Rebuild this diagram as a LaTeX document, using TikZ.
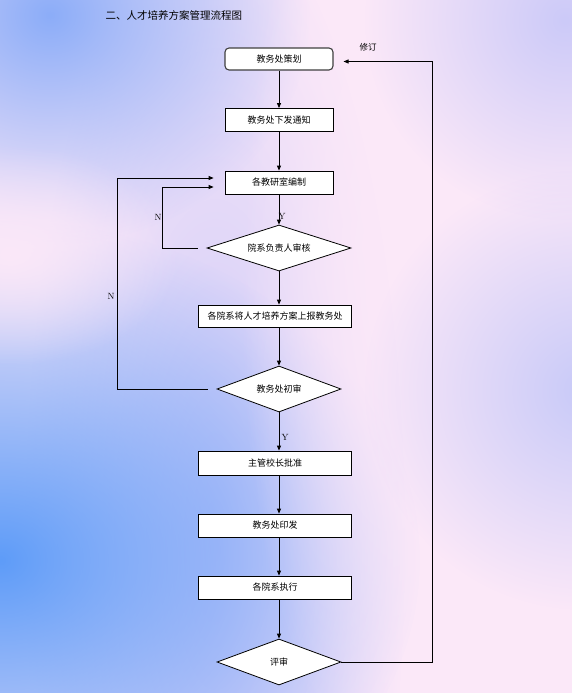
\documentclass[tikz,border=0pt]{standalone}
\usepackage{fontspec}
\newfontfamily\cjk{Noto Sans CJK SC}
\usetikzlibrary{arrows.meta,positioning,shapes.geometric,fadings}
\definecolor{flowpink}{HTML}{FBE8F8}
\definecolor{flowblue}{HTML}{5E9CF8}
\definecolor{flowsky}{HTML}{8CADF8}
\definecolor{flowlav}{HTML}{C8CAF8}
\definecolor{flowmist}{HTML}{CCCAF8}
\tikzfading[name=blobfade,inner color=transparent!0,outer color=transparent!100]

\begin{document}
\begin{tikzpicture}[
  x=1pt,y=-1pt,
  font=\cjk\fontsize{9}{11}\selectfont,
  box/.style={draw=black,fill=white,minimum width=108pt,minimum height=23pt,inner sep=2pt,line width=0.8pt},
  widebox/.style={box,minimum width=153pt},
  startbox/.style={box,rounded corners=4pt,draw=black!75,line width=1.1pt,minimum height=22pt},
  check/.style={diamond,aspect=3,draw=black,fill=white,inner sep=0pt,line width=0.8pt,minimum height=46pt},
  arr/.style={-{Triangle[length=5pt,width=4pt]},draw=black,line width=0.8pt},
  tag/.style={font=\rmfamily\fontsize{9}{11}\selectfont,inner sep=1pt}
]
\useasboundingbox (0,0) rectangle (572,693);
% background
\fill[flowpink] (0,0) rectangle (572,693);
\begin{scope}
\clip (0,0) rectangle (572,693);
\fill[flowmist,path fading=blobfade] (215,540) ellipse (190 and 640);
\fill[flowsky,path fading=blobfade] (50,15) ellipse (260 and 230);
\fill[flowblue,path fading=blobfade] (0,560) ellipse (420 and 340);
\fill[flowpink,path fading=blobfade] (10,255) ellipse (170 and 110);
\fill[flowpink,path fading=blobfade] (390,280) ellipse (150 and 500);
\fill[flowlav,path fading=blobfade] (585,390) circle (220);
\fill[flowmist,path fading=blobfade] (565,20) circle (200);
\end{scope}

\node[anchor=west,font=\cjk\fontsize{10.5}{12}\selectfont] (title) at (102,15) {二、人才培养方案管理流程图};

\node[startbox] (plan) at (279,59) {教务处策划};
\node[box] (notice) at (279,120) {教务处下发通知};
\node[box] (compile) at (279,182.5) {各教研室编制};
\node[check,minimum width=144pt] (deptcheck) at (279,248) {院系负责人审核};
\node[widebox,minimum height=22pt] (report) at (275,316) {各院系将人才培养方案上报教务处};
\node[check,minimum width=124pt] (officecheck) at (279,389) {教务处初审};
\node[widebox,minimum height=24pt] (approve) at (275,463) {主管校长批准};
\node[widebox] (issue) at (275,525.5) {教务处印发};
\node[widebox] (execute) at (275,587.5) {各院系执行};
\node[check,minimum width=124pt] (review) at (279,662) {评审};

\draw[arr] (plan) -- (notice);
\draw[arr] (notice) -- (compile);
\draw[arr] (compile) -- (deptcheck);
\draw[arr] (deptcheck) -- (report.north -| deptcheck);
\draw[arr] (report.south -| officecheck) -- (officecheck);
\draw[arr] (officecheck) -- (approve.north -| officecheck);
\draw[arr] (approve.south -| review) -- (issue.north -| review);
\draw[arr] (issue.south -| review) -- (execute.north -| review);
\draw[arr] (execute.south -| review) -- (review);

\draw[arr,shorten <=9pt,shorten >=11pt] (deptcheck.west) -- ++(-44,0) |- ([yshift=-4.5pt]compile.west);
\draw[arr,shorten <=9pt,shorten >=11pt] (officecheck.west) -- ++(-99,0) |- ([yshift=4.5pt]compile.west);
\draw[arr,shorten >=10pt] (review.east) -- ++(91,0) |- ([yshift=-2.5pt]plan.east);

\node[tag] (yes1) at (282,216) {Y};
\node[tag] (no1) at (158,217) {N};
\node[tag] (no2) at (111,296) {N};
\node[tag] (yes2) at (285,437) {Y};
\node[font=\cjk\fontsize{8.5}{10}\selectfont] (revise) at (368,47) {修订};
\end{tikzpicture}
\end{document}
